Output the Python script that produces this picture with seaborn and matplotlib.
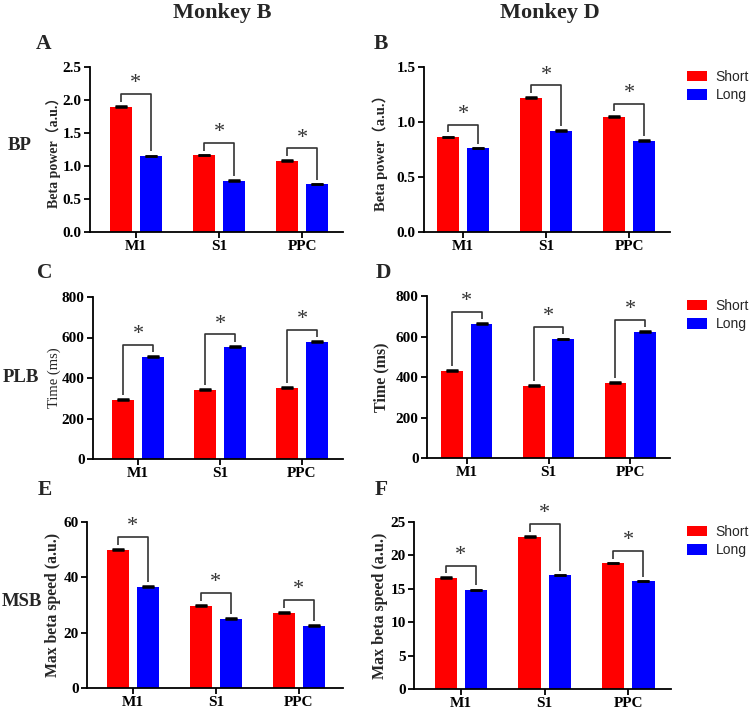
import numpy as np
import pandas as pd
import matplotlib
matplotlib.use("Agg")
import matplotlib.pyplot as plt
import seaborn as sns

# ---------------- data ----------------
regions = ["M1", "S1", "PPC"]
conditions = ["Short", "Long"]

# Beta power (BP)
bp_b_short = [1.90, 1.16, 1.08]
bp_b_long = [1.15, 0.78, 0.72]
bp_b_short_sem = [0.012, 0.010, 0.010]
bp_b_long_sem = [0.008, 0.008, 0.008]
bp_d_short = [0.86, 1.22, 1.05]
bp_d_long = [0.76, 0.92, 0.83]
bp_d_short_sem = [0.008, 0.008, 0.008]
bp_d_long_sem = [0.007, 0.007, 0.007]

# Peak latency of beta (PLB), ms
plb_b_short = [292, 342, 352]
plb_b_long = [505, 555, 578]
plb_b_short_sem = [3, 3, 3]
plb_b_long_sem = [4, 4, 4]
plb_d_short = [430, 356, 372]
plb_d_long = [661, 586, 621]
plb_d_short_sem = [3, 3, 3]
plb_d_long_sem = [4, 4, 4]

# Max speed of beta (MSB)
msb_b_short = [50.0, 29.8, 27.2]
msb_b_long = [36.5, 25.0, 22.5]
msb_b_short_sem = [0.3, 0.2, 0.2]
msb_b_long_sem = [0.2, 0.2, 0.2]
msb_d_short = [16.6, 22.8, 18.8]
msb_d_long = [14.8, 17.0, 16.1]
msb_d_short_sem = [0.1, 0.1, 0.1]
msb_d_long_sem = [0.08, 0.08, 0.08]

col_titles = ["Monkey B", "Monkey D"]
row_labels = ["BP", "PLB", "MSB"]
panel_letters = ["A", "B", "C", "D", "E", "F"]

# ---------------- style ----------------
sns.set_theme(style="ticks")
plt.rcParams['font.family'] = ['Liberation Serif', 'Noto Sans CJK SC']
plt.rcParams['axes.linewidth'] = 1.3

W, H = 750, 711
fig = plt.figure(figsize=(W / 100, H / 100), dpi=100)

def rect(l, r, t, b):
    return [l / W, 1 - b / H, (r - l) / W, (b - t) / H]

panels = [
    dict(short=bp_b_short, long=bp_b_long, ss=bp_b_short_sem, ls=bp_b_long_sem,
         ymax=2.5, yticks=[0, 0.5, 1.0, 1.5, 2.0, 2.5], fmt="{:.1f}",
         ylabel="Beta power（a.u.）", ylw="bold", yls=10, ylx=-0.115,
         rect=rect(90, 343, 67, 232), xlim=(-0.55, 2.49), legend=None),
    dict(short=bp_d_short, long=bp_d_long, ss=bp_d_short_sem, ls=bp_d_long_sem,
         ymax=1.5, yticks=[0, 0.5, 1.0, 1.5], fmt="{:.1f}",
         ylabel="Beta power（a.u.）", ylw="bold", yls=10.5, ylx=-0.146,
         rect=rect(424, 670, 67, 232), xlim=(-0.47, 2.49), legend=73),
    dict(short=plb_b_short, long=plb_b_long, ss=plb_b_short_sem, ls=plb_b_long_sem,
         ymax=800, yticks=[0, 200, 400, 600, 800], fmt="{:.0f}",
         ylabel="Time (ms)", ylw="normal", yls=10.5, ylx=-0.128,
         rect=rect(93, 343, 297, 459), xlim=(-0.55, 2.5), legend=None),
    dict(short=plb_d_short, long=plb_d_long, ss=plb_d_short_sem, ls=plb_d_long_sem,
         ymax=800, yticks=[0, 200, 400, 600, 800], fmt="{:.0f}",
         ylabel="Time (ms)", ylw="bold", yls=11.5, ylx=-0.156,
         rect=rect(427, 670, 296, 458), xlim=(-0.49, 2.49), legend=302),
    dict(short=msb_b_short, long=msb_b_long, ss=msb_b_short_sem, ls=msb_b_long_sem,
         ymax=60, yticks=[0, 20, 40, 60], fmt="{:.0f}",
         ylabel="Max beta speed (a.u.)", ylw="bold", yls=11.3, ylx=-0.1,
         rect=rect(87, 343, 522, 688), xlim=(-0.55, 2.53), legend=None),
    dict(short=msb_d_short, long=msb_d_long, ss=msb_d_short_sem, ls=msb_d_long_sem,
         ymax=25, yticks=[0, 5, 10, 15, 20, 25], fmt="{:.0f}",
         ylabel="Max beta speed (a.u.)", ylw="bold", yls=11.5, ylx=-0.1,
         rect=rect(414, 671, 522, 689), xlim=(-0.56, 2.51), legend=528),
]

palette = {"Short": "#FF0000", "Long": "#0000FF"}

for p in panels:
    ax = fig.add_axes(p["rect"])
    df = pd.DataFrame({
        "region": regions * 2,
        "cond": ["Short"] * len(regions) + ["Long"] * len(regions),
        "value": list(p["short"]) + list(p["long"]),
    })
    sns.barplot(data=df, x="region", y="value", hue="cond", order=regions,
                hue_order=conditions, palette=palette, saturation=1,
                width=0.72, gap=0.26, errorbar=None, linewidth=0, ax=ax)
    ymax = p["ymax"]
    c_short, c_long = ax.containers[0], ax.containers[1]
    xs = [b.get_x() + b.get_width() / 2 for b in c_short]
    xl = [b.get_x() + b.get_width() / 2 for b in c_long]
    hs = [b.get_height() for b in c_short]
    hl = [b.get_height() for b in c_long]
    # error bars (upper only)
    for xx, hh, ee in ((xs, hs, p["ss"]), (xl, hl, p["ls"])):
        ax.errorbar(xx, hh, yerr=[np.zeros(len(ee)), ee], fmt="none",
                    ecolor="black", elinewidth=1.3, capsize=4.5, capthick=1.8,
                    zorder=3)
    # significance brackets
    for i in range(len(regions)):
        top = max(hs[i], hl[i]) + 0.075 * ymax
        ax.plot([xs[i], xs[i], xl[i], xl[i]],
                [hs[i] + p["ss"][i] + 0.025 * ymax, top, top,
                 hl[i] + p["ls"][i] + 0.025 * ymax],
                color="#333333", lw=1.2, solid_capstyle="butt", zorder=3)
        ax.text((xs[i] + xl[i]) / 2, top + 0.005 * ymax, "*", ha="center",
                va="bottom", fontsize=16, color="#333333")
    ax.set_ylim(0, ymax)
    ax.set_xlim(*p["xlim"])
    ax.set_yticks(p["yticks"])
    ax.set_yticklabels([p["fmt"].format(v) for v in p["yticks"]],
                       fontsize=11, fontweight="bold")
    ax.set_xticks(range(len(regions)))
    ax.set_xticklabels(regions, fontsize=11, fontweight="bold")
    ax.tick_params(axis="both", direction="out", length=4.5, width=1.3,
                   pad=1.5, colors="black")
    ax.set_xlabel("")
    ax.set_ylabel(p["ylabel"], fontsize=p["yls"], fontweight=p["ylw"])
    ax.yaxis.set_label_coords(p["ylx"], 0.5)
    sns.despine(ax=ax)
    for s in ("left", "bottom"):
        ax.spines[s].set_color("black")
    if p["legend"] is None:
        ax.get_legend().remove()
    else:
        sns.move_legend(ax, loc="upper left",
                        bbox_to_anchor=(687 / W, 1 - (p["legend"] - 3) / H),
                        bbox_transform=fig.transFigure, frameon=False,
                        title=None, prop={"family": "Liberation Sans", "size": 10},
                        handlelength=1.45, handleheight=0.8, labelspacing=0.3,
                        handletextpad=0.6, borderpad=0, borderaxespad=0)

# titles, letters, row labels
fig.text(222 / W, 1 - 13 / H, col_titles[0], ha="center", va="center",
         fontsize=16, fontweight="bold")
fig.text(550 / W, 1 - 13 / H, col_titles[1], ha="center", va="center",
         fontsize=16, fontweight="bold")
letter_pos = [(44, 44), (381, 44), (45, 273), (383, 273), (45, 490), (381, 490)]
for letter, (lx, ly) in zip(panel_letters, letter_pos):
    fig.text(lx / W, 1 - ly / H, letter, ha="center", va="center",
             fontsize=15.5, fontweight="bold")
row_pos = [(20, 145), (21, 377), (22, 602)]
for lab, (rx, ry) in zip(row_labels, row_pos):
    fig.text(rx / W, 1 - ry / H, lab, ha="center", va="center",
             fontsize=13.5, fontweight="bold")

fig.savefig("out.png", dpi=100)
